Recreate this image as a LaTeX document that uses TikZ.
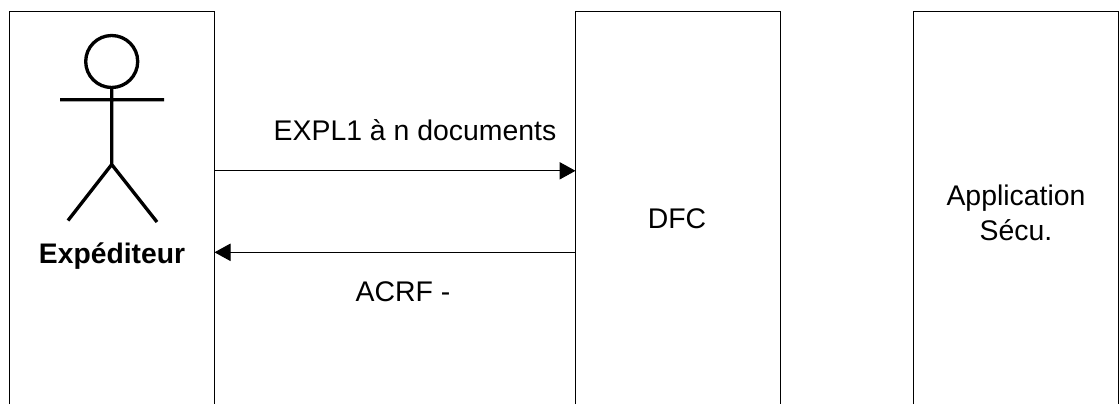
\documentclass[tikz,border=0pt]{standalone}
\usepackage{fontspec}
\setmainfont{Liberation Sans}
\usetikzlibrary{arrows.meta}
\tikzset{x=0.75pt,y=-0.75pt,
 ln/.style={draw=black,line width=0.75pt},
 lbl/.style={inner sep=0pt,font=\fontsize{21.3pt}{26.7pt}\selectfont,align=center,text=black},
 flow/.style={ln,-{Triangle[length=12pt,width=13pt]}},
 stick/.style={draw=black,line width=2.5pt}}
\begin{document}
\begin{tikzpicture}
\useasboundingbox (0,0) rectangle (1120,404);
\fill[white] (0,0) rectangle (1120,404);
\coordinate (a1) at (9,404); \coordinate (a2) at (9,11.5); \coordinate (a3) at (214.5,11.5); \coordinate (a4) at (214.5,404);
\draw[ln] (a1) -- (a2) -- (a3) -- (a4);
\coordinate (b1) at (575.5,404); \coordinate (b2) at (575.5,11.5); \coordinate (b3) at (780,11.5); \coordinate (b4) at (780,404);
\draw[ln] (b1) -- (b2) -- (b3) -- (b4);
\coordinate (c1) at (913.5,404); \coordinate (c2) at (913.5,11.5); \coordinate (c3) at (1118.5,11.5); \coordinate (c4) at (1118.5,404);
\draw[ln] (c1) -- (c2) -- (c3) -- (c4);
\node[stick,circle,minimum size=39pt,inner sep=0pt] (head) at (111.7,61.5) {};
\coordinate (hip) at (111.7,164.5);
\coordinate (armL) at (60,99.7); \coordinate (armR) at (164,99.7);
\coordinate (footL) at (68,220.5); \coordinate (footR) at (157,222);
\draw[stick] (head.south) -- (hip) (armL) -- (armR) (footL) -- (hip) -- (footR);
\node[lbl,font=\fontsize{21.2pt}{26pt}\selectfont\bfseries] (exp) at (112,256) {Expéditeur};
\node[lbl] (dfc) at (677,219) {DFC};
\node[lbl] (app) at (1016,213) {Application\\Sécu.};
\node[lbl] (m1) at (415,130) {EXPL1 à n documents};
\node[lbl] (m2) at (403,292) {ACRF -};
\coordinate (f1s) at (214.5,170.8); \coordinate (f1e) at (575.5,170.8);
\coordinate (f2s) at (575.5,252.3); \coordinate (f2e) at (214.5,252.3);
\draw[flow] (f1s) -- (f1e);
\draw[flow] (f2s) -- (f2e);
\end{tikzpicture}
\end{document}
